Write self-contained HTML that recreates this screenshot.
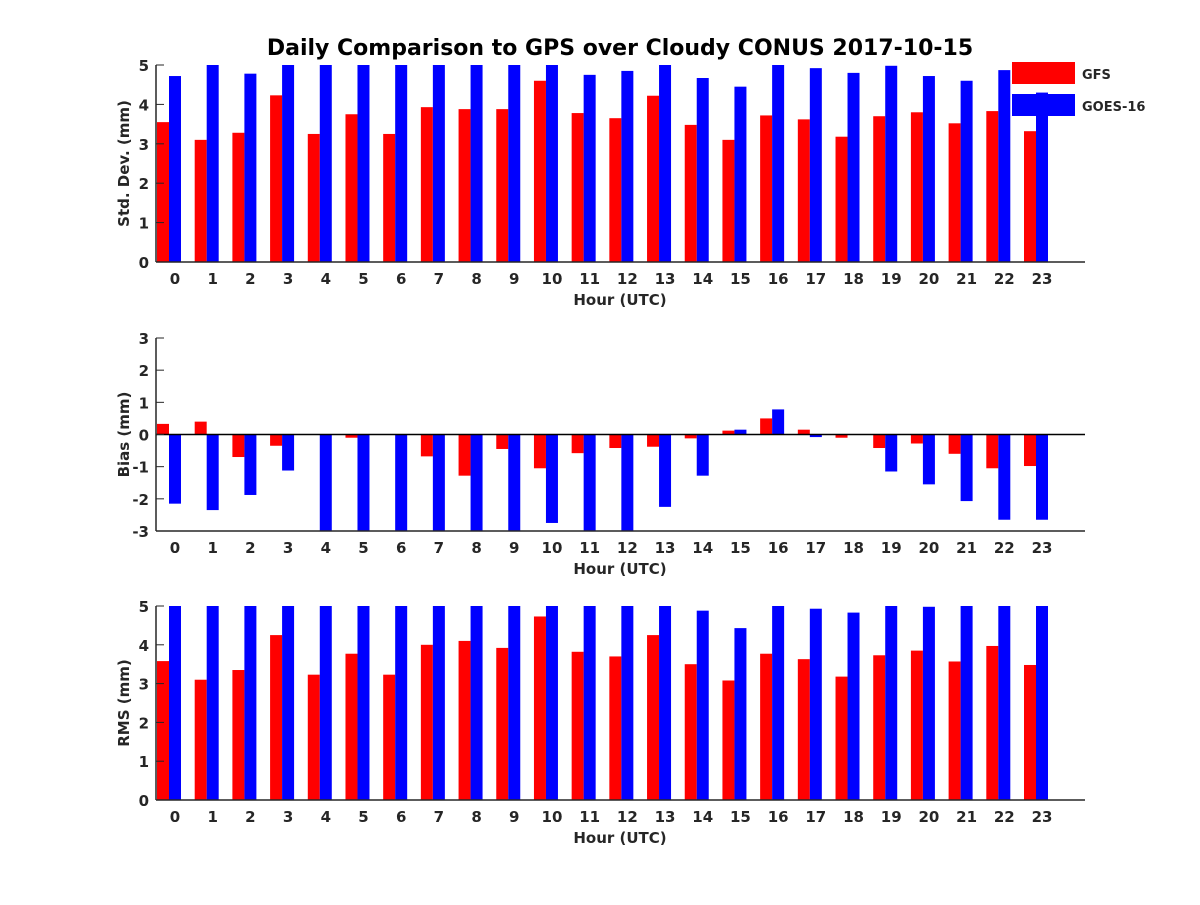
<!DOCTYPE html>
<html><head><meta charset="utf-8"><style>
body{margin:0;background:#fff;}
svg text{font-family:"DejaVu Sans","Liberation Sans",sans-serif;font-weight:bold;fill:#262626;}
</style></head><body>
<svg id="chart" width="1200" height="900" xmlns="http://www.w3.org/2000/svg">
<rect width="1200" height="900" fill="#fff"/>
<text x="620" y="55" font-size="22" text-anchor="middle" style="fill:#000">Daily Comparison to GPS over Cloudy CONUS 2017-10-15</text>
</svg>
<script>
const hours=[0,1,2,3,4,5,6,7,8,9,10,11,12,13,14,15,16,17,18,19,20,21,22,23];
const stdGFS=[3.55,3.1,3.28,4.23,3.25,3.75,3.25,3.93,3.88,3.88,4.6,3.78,3.65,4.22,3.48,3.1,3.72,3.62,3.18,3.7,3.8,3.52,3.83,3.32];
const stdGOES=[4.72,5,4.78,5,5,5,5,5,5,5,5,4.75,4.85,5,4.67,4.45,5,4.92,4.8,4.98,4.72,4.6,4.87,4.3];
const biasGFS=[0.33,0.4,-0.7,-0.35,0,-0.1,0,-0.68,-1.28,-0.45,-1.05,-0.58,-0.42,-0.38,-0.12,0.12,0.5,0.15,-0.1,-0.42,-0.28,-0.6,-1.05,-0.98];
const biasGOES=[-2.15,-2.35,-1.88,-1.12,-3,-3,-3,-3,-3,-3,-2.75,-3,-3,-2.25,-1.28,0.15,0.78,-0.08,0,-1.15,-1.55,-2.07,-2.65,-2.65];
const rmsGFS=[3.58,3.1,3.35,4.25,3.23,3.77,3.23,4.0,4.1,3.92,4.73,3.82,3.7,4.25,3.5,3.08,3.77,3.63,3.18,3.73,3.85,3.57,3.97,3.48];
const rmsGOES=[5,5,5,5,5,5,5,5,5,5,5,5,5,5,4.88,4.43,5,4.93,4.83,5,4.98,5,5,5];
const stdTicks=[0,1,2,3,4,5], biasTicks=[-3,-2,-1,0,1,2,3], rmsTicks=[0,1,2,3,4,5];
const NS="http://www.w3.org/2000/svg";
const svg=document.getElementById('chart');
function mk(tag,attrs,parent){const e=document.createElementNS(NS,tag);for(const k in attrs)e.setAttribute(k,attrs[k]);(parent||svg).appendChild(e);return e;}
const X0=156,X1=1085;
const xs=h=>175+h*(1042-175)/23;
function panel(name,top,bottom,ymin,ymax,ticks,a,b,ylabel,zeroLine){
  const g=mk('g',{});
  
  
  const ys=v=>bottom-(Math.max(ymin,Math.min(ymax,v))-ymin)/(ymax-ymin)*(bottom-top);
  const base=ys(Math.max(ymin,0));
  hours.forEach((h,i)=>{
    [[a[i],'#ff0000',-18,'gfs'],[b[i],'#0000ff',-6,'goes']].forEach(([v,c,off,s])=>{
      const y1=ys(v),y0=base;
      const r=mk('rect',{x:xs(h)+off,y:Math.min(y0,y1),width:12,height:Math.abs(y1-y0),fill:c},g);
      
      
    });
  });
  mk('line',{x1:X0,y1:top,x2:X0,y2:bottom,stroke:'#262626','stroke-width':1.5},g);
  mk('line',{x1:X0,y1:bottom,x2:X1,y2:bottom,stroke:'#262626','stroke-width':1.5},g);
  if(zeroLine) mk('line',{x1:X0,y1:ys(0),x2:X1,y2:ys(0),stroke:'#000','stroke-width':1.5},g);
  ticks.forEach(t=>{
    const y=ys(t);
    mk('line',{x1:X0,y1:y,x2:X0+8,y2:y,stroke:'#262626'},g);
    const tx=mk('text',{x:X0-7,y:y+6,'font-size':15,'text-anchor':'end'},g);tx.textContent=t;
    
    
  });
  hours.forEach(h=>{
    const tx=mk('text',{x:xs(h),y:bottom+22,'font-size':15,'text-anchor':'middle'},g);tx.textContent=h;
    
    
  });
  const xl=mk('text',{x:620,y:bottom+43,'font-size':15,'text-anchor':'middle'},g);xl.textContent='Hour (UTC)';
  
  
  const cy=(top+bottom)/2;
  const yl=mk('text',{x:129,y:cy,'font-size':15,'text-anchor':'middle',transform:'rotate(-90 129 '+cy+')'},g);yl.textContent=ylabel;
  
  
}
panel('std',65,262,0,5,stdTicks,stdGFS,stdGOES,'Std. Dev. (mm)',false);
panel('bias',338,531,-3,3,biasTicks,biasGFS,biasGOES,'Bias (mm)',true);
panel('rms',606,800,0,5,rmsTicks,rmsGFS,rmsGOES,'RMS (mm)',false);
const lg=mk('g',{});


[['GFS','#ff0000',62],['GOES-16','#0000ff',94]].forEach(([t,c,y])=>{
  const r=mk('rect',{x:1012,y:y,width:63,height:22,fill:c},lg);
  
  
  const tx=mk('text',{x:1082,y:y+17,'font-size':13},lg);tx.textContent=t;
  
  
});
</script>
</body></html>
